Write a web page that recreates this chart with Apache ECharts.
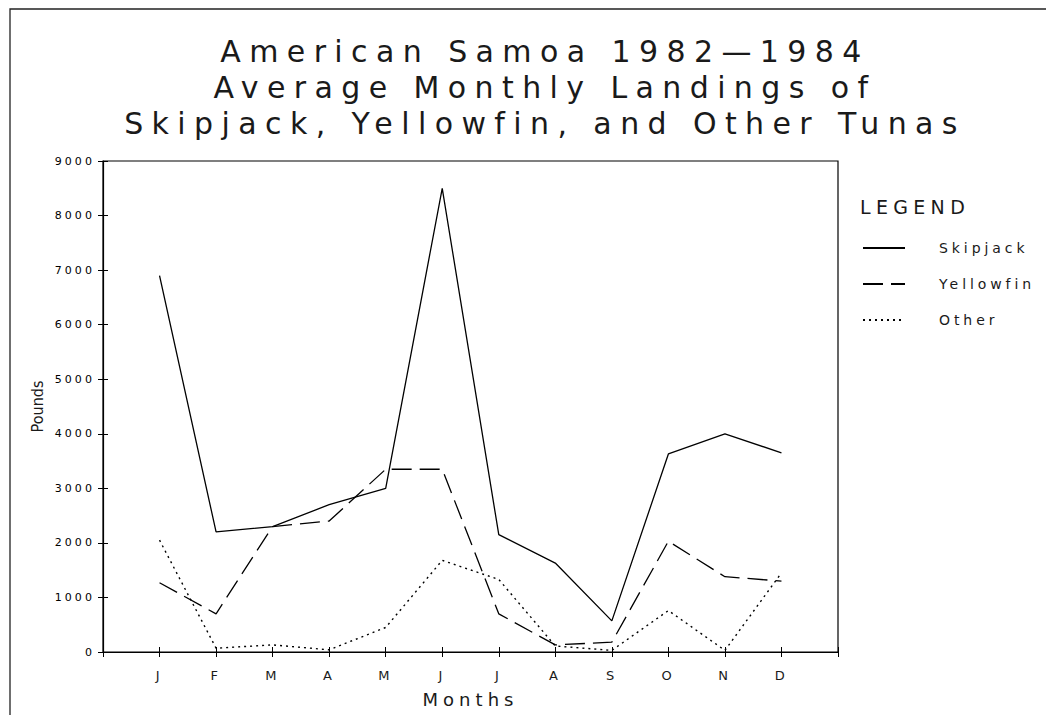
<!DOCTYPE html>
<html>
<head>
<meta charset="utf-8">
<script src="https://cdn.jsdelivr.net/npm/echarts@6/dist/echarts.min.js"></script>
<style>
  html, body { margin: 0; padding: 0; background: #fff; }
  #chart { width: 1046px; height: 715px; }
  #chart text { letter-spacing: 0.28em; }
  #chart text[style*="Condensed"] { letter-spacing: 0; }
</style>
</head>
<body>
<div id="chart"></div>
<script>
// ---- data ----
const months = ['J', 'F', 'M', 'A', 'M', 'J', 'J', 'A', 'S', 'O', 'N', 'D'];
const skipjack  = [6900, 2200, 2300, 2700, 3000, 8500, 2150, 1630, 570, 3630, 4000, 3650];
const yellowfin = [1270, 700, 2300, 2400, 3350, 3350, 700, 130, 180, 2030, 1380, 1300];
const other     = [2050, 70, 130, 40, 450, 1680, 1330, 110, 30, 760, 30, 1450];
const yTicks = [0, 1000, 2000, 3000, 4000, 5000, 6000, 7000, 8000, 9000];
const titleLines = ['American Samoa 1982\u20141984', 'Average Monthly Landings of', 'Skipjack, Yellowfin, and Other Tunas'];

const toPoints = arr => arr.map((v, i) => [i + 1, v]);
const FONT = 'DejaVu Sans';

const chart = echarts.init(document.getElementById('chart'), null, { renderer: 'svg' });

const gridBox = { left: 103, right: 208, top: 161, bottom: 63 };

chart.setOption({
  animation: false,
  backgroundColor: '#fff',
  title: [
    {
      text: titleLines.join('\n'),
      left: 540, top: 28, textAlign: 'center',
      textStyle: { fontFamily: FONT, fontSize: 30, fontWeight: 'normal', color: '#1a1a1a', lineHeight: 36 }
    },
    {
      text: 'LEGEND',
      left: 855, top: 192,
      textStyle: { fontFamily: FONT, fontSize: 19, fontWeight: 'normal', color: '#1a1a1a' }
    }
  ],
  legend: {
    orient: 'vertical',
    left: 857, top: 236,
    itemWidth: 42, itemHeight: 14, itemGap: 22,
    itemStyle: { opacity: 0 },
    textStyle: { fontFamily: FONT, fontSize: 14, color: '#1a1a1a', padding: [0, 0, 0, 29] },
    data: ['Skipjack', 'Yellowfin', 'Other']
  },
  graphic: [
    { type: 'polyline', shape: { points: [[10, 715], [10, 9], [1046, 9]] }, style: { stroke: '#222', lineWidth: 1.3, fill: null } }
  ],
  grid: [
    Object.assign({ show: true, borderColor: '#000', borderWidth: 1.2 }, gridBox),
    Object.assign({ show: false }, gridBox)
  ],
  xAxis: [
    {
      type: 'value', gridIndex: 0, min: 0, max: 13, interval: 1,
      splitLine: { show: false },
      axisLine: { lineStyle: { color: '#000', width: 1.2 } },
      axisTick: { show: true, length: 5, lineStyle: { color: '#000' } },
      axisLabel: {
        formatter: v => months[v - 1] || '',
        fontFamily: FONT, fontSize: 13, color: '#1a1a1a', margin: 17
      },
      name: 'Months', nameLocation: 'middle', nameGap: 38,
      nameTextStyle: { fontFamily: FONT, fontSize: 18, color: '#1a1a1a' }
    },
    {
      type: 'value', gridIndex: 1, min: 0, max: 13, interval: 1,
      splitLine: { show: false }, axisLine: { show: false },
      axisTick: { show: true, inside: true, length: 5, lineStyle: { color: '#000' } },
      axisLabel: { show: false }
    }
  ],
  yAxis: [
    {
      type: 'value', gridIndex: 0, min: yTicks[0], max: yTicks[yTicks.length - 1], interval: 1000,
      splitLine: { show: false },
      axisLine: { show: true, lineStyle: { color: '#000', width: 1.2 } },
      axisTick: { show: true, length: 5, lineStyle: { color: '#000' } },
      axisLabel: { formatter: v => String(v), fontFamily: FONT, fontSize: 11, color: '#000', margin: 8 },
      name: 'Pounds', nameLocation: 'middle', nameGap: 58,
      nameTextStyle: { fontFamily: 'DejaVu Sans Condensed', fontSize: 16, color: '#1a1a1a' }
    },
    {
      type: 'value', gridIndex: 1, min: yTicks[0], max: yTicks[yTicks.length - 1], interval: 1000,
      splitLine: { show: false }, axisLine: { show: false },
      axisTick: { show: true, inside: true, length: 5, lineStyle: { color: '#000' } },
      axisLabel: { show: false }
    }
  ],
  series: [
    {
      name: 'Skipjack', type: 'line', data: toPoints(skipjack), symbol: 'none',
      lineStyle: { color: '#000', width: 1.3, type: 'solid' }, itemStyle: { color: '#000' }
    },
    {
      name: 'Yellowfin', type: 'line', data: toPoints(yellowfin), symbol: 'none',
      lineStyle: { color: '#000', width: 1.3, type: [20, 8] }, itemStyle: { color: '#000' }
    },
    {
      name: 'Other', type: 'line', data: toPoints(other), symbol: 'none',
      lineStyle: { color: '#000', width: 1.4, type: [2, 4] }, itemStyle: { color: '#000' }
    }
  ]
});
</script>
</body>
</html>
